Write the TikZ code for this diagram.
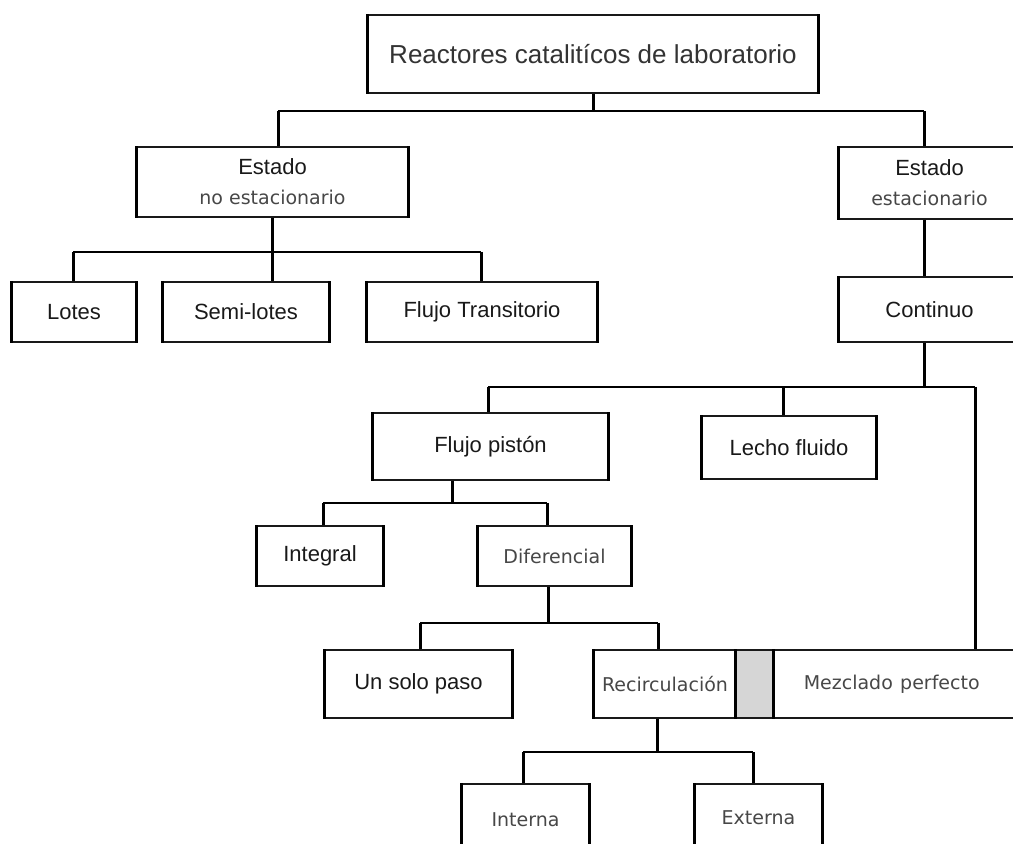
\documentclass[tikz,border=0pt]{standalone}
\usepackage{fontspec}
\setmainfont{Liberation Sans}
\newfontfamily\lightfont{DejaVu Sans}
\usepackage{tikz}
\usepackage{xcolor}
\newcommand{\leve}[1]{{\lightfont\fontsize{9.5}{12}\selectfont\color{black!72}#1}}
\tikzset{
  stem/.style={line width=1.5pt},
  bus/.style={line width=0.75pt},
  sz/.style n args={2}{minimum width=#1*0.5pt,minimum height=#2*0.5pt},
  box/.style={draw=black!90,line width=0.75pt,inner sep=0pt,align=center,
              text=black!90,
              append after command={
                (\tikzlastnode.north west) edge[stem] (\tikzlastnode.south west)
                (\tikzlastnode.north east) edge[stem] (\tikzlastnode.south east)}}
}

\begin{document}
\begin{tikzpicture}[x=0.5pt, y=-0.5pt, font=\fontsize{11}{13}\selectfont]
\clip (0,0) rectangle (1013,844);

\node[box,sz={450}{78},font=\fontsize{13}{15}\selectfont,text=black!80] (top)
  at (593,54) {Reactores catalitícos de laboratorio};
\node[box,sz={271}{70}] (noest) at (272.5,182) {Estado\\[2pt]\leve{no estacionario}};
\node[box,sz={181}{72}] (est) at (929.5,183) {Estado\\[2pt]\leve{estacionario}};
\node[box,sz={124}{60}] (lotes) at (74,312) {Lotes};
\node[box,sz={166}{60}] (semi) at (246,312) {Semi-lotes};
\node[box,sz={230}{60}] (trans) at (482,312) {Flujo Transitorio};
\node[box,sz={181}{65}] (cont) at (929.5,309.5) {Continuo};
\node[box,sz={235}{67}] (piston) at (490.5,446.5) {Flujo pistón};
\node[box,sz={174}{63}] (lecho) at (789,447.5) {Lecho fluido};
\node[box,sz={126}{60}] (integ) at (320,556) {Integral};
\node[box,sz={153}{60}] (difer) at (554.5,556) {\leve{Diferencial}};
\node[box,sz={187}{68}] (unsolo) at (418.5,684) {Un solo paso};
\node[box,sz={142}{68}] (recirc) at (665,684) {\leve{Recirculación}};
\node[box,sz={37}{68},fill=black!16] (gris) at (754.5,684) {};
\node[box,anchor=west,minimum height=34pt,text width=130pt,inner xsep=15pt,
  align=left] (mezcla) at (773,684) {\leve{Mezclado perfecto}};
\node[box,sz={127}{72}] (interna) at (525.5,820) {\leve{Interna}};
\node[box,sz={127}{68}] (externa) at (758.5,818) {\leve{Externa}};

% first split
\coordinate (j0) at (593,111);
\coordinate (j0l) at (278,111);
\coordinate (j0r) at (924,111);
\draw[stem] (j0 |- top.south) -- (j0);
\draw[bus] (j0l) -- (j0r);
\draw[stem] (j0l) -- (j0l |- noest.north);
\draw[stem] (j0r) -- (j0r |- est.north);

% no estacionario
\coordinate (j1) at (272,252);
\coordinate (j1l) at (73,252);
\coordinate (j1r) at (481,252);
\draw[stem] (j1 |- noest.south) -- (j1);
\draw[bus] (j1l) -- (j1r);
\draw[stem] (j1l) -- (j1l |- lotes.north);
\draw[stem] (j1) -- (j1 |- semi.north);
\draw[stem] (j1r) -- (j1r |- trans.north);

% estacionario
\draw[stem] (j0r |- est.south) -- (j0r |- cont.north);
\coordinate (j2) at (924,387);
\coordinate (j2l) at (488,387);
\coordinate (j2m) at (783,387);
\coordinate (j2r) at (975,387);
\draw[stem] (j2 |- cont.south) -- (j2);
\draw[bus] (j2l) -- (j2r);
\draw[stem] (j2l) -- (j2l |- piston.north);
\draw[stem] (j2m) -- (j2m |- lecho.north);
\draw[stem] (j2r) -- (j2r |- mezcla.north);

% flujo piston
\coordinate (j3) at (452,503);
\coordinate (j3l) at (323,503);
\coordinate (j3r) at (547,503);
\draw[stem] (j3 |- piston.south) -- (j3);
\draw[bus] (j3l) -- (j3r);
\draw[stem] (j3l) -- (j3l |- integ.north);
\draw[stem] (j3r) -- (j3r |- difer.north);

% diferencial
\coordinate (j4) at (548,623);
\coordinate (j4l) at (420,623);
\coordinate (j4r) at (658,623);
\draw[stem] (j4 |- difer.south) -- (j4);
\draw[bus] (j4l) -- (j4r);
\draw[stem] (j4l) -- (j4l |- unsolo.north);
\draw[stem] (j4r) -- (j4r |- recirc.north);

% recirculacion
\coordinate (j5) at (657,752);
\coordinate (j5l) at (523,752);
\coordinate (j5r) at (753,752);
\draw[stem] (j5 |- recirc.south) -- (j5);
\draw[bus] (j5l) -- (j5r);
\draw[stem] (j5l) -- (j5l |- interna.north);
\draw[stem] (j5r) -- (j5r |- externa.north);
\end{tikzpicture}
\end{document}
